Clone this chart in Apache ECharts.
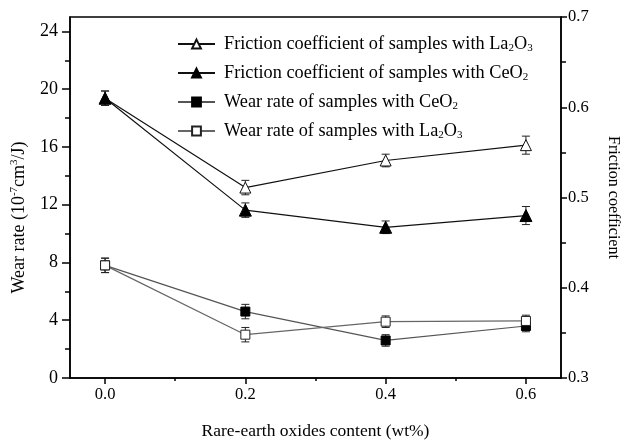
<!DOCTYPE html>
<html>
<head>
<meta charset="utf-8">
<script src="https://cdn.jsdelivr.net/npm/echarts@6/dist/echarts.min.js"></script>
<style>
html,body{margin:0;padding:0;background:#fff;}
#chart{width:629px;height:445px;}
</style>
</head>
<body>
<div id="chart"></div>
<script>
// ---- data ----
const xValues = [0, 0.2, 0.4, 0.6];
const frictionLa = [0.610, 0.511, 0.541, 0.558];
const frictionLaErr = [0.008, 0.008, 0.007, 0.010];
const frictionCe = [0.610, 0.486, 0.467, 0.480];
const frictionCeErr = [0.008, 0.008, 0.007, 0.010];
const wearCe = [7.8, 4.6, 2.6, 3.6];
const wearCeErr = [0.5, 0.5, 0.4, 0.4];
const wearLa = [7.8, 3.0, 3.9, 3.95];
const wearLaErr = [0.5, 0.5, 0.4, 0.4];

const xTicks = [0, 0.2, 0.4, 0.6];
const xMinorTicks = [0.1, 0.3, 0.5];
const leftTicks = [0, 4, 8, 12, 16, 20, 24];
const leftMinorTicks = [2, 6, 10, 14, 18, 22];

const seriesNames = [
  'Friction coefficient of samples with La2O3',
  'Friction coefficient of samples with CeO2',
  'Wear rate of samples with CeO2',
  'Wear rate of samples with La2O3'
];
const legendLabels = {
  'Friction coefficient of samples with La2O3': 'Friction coefficient of samples with La{sub|2}O{sub|3}',
  'Friction coefficient of samples with CeO2': 'Friction coefficient of samples with CeO{sub|2}',
  'Wear rate of samples with CeO2': 'Wear rate of samples with CeO{sub|2}',
  'Wear rate of samples with La2O3': 'Wear rate of samples with La{sub|2}O{sub|3}'
};

const FONT = "'Liberation Serif', 'Times New Roman', serif";

function errBars(vals, errs) {
  return xValues.map((x, i) => [x, vals[i], errs[i]]);
}
function renderErr(params, api) {
  const x = api.value(0), y = api.value(1), e = api.value(2);
  const t = api.coord([x, y + e]);
  const b = api.coord([x, y - e]);
  const w = 4;
  const st = { stroke: '#222', lineWidth: 1, fill: null };
  return {
    type: 'group',
    children: [
      { type: 'line', shape: { x1: t[0], y1: t[1], x2: b[0], y2: b[1] }, style: st },
      { type: 'line', shape: { x1: t[0] - w, y1: t[1], x2: t[0] + w, y2: t[1] }, style: st },
      { type: 'line', shape: { x1: b[0] - w, y1: b[1], x2: b[0] + w, y2: b[1] }, style: st }
    ]
  };
}

const chart = echarts.init(document.getElementById('chart'));
const axisLineStyle = { color: '#000', width: 1.5 };
const option = {
  animation: false,
  backgroundColor: '#fff',
  textStyle: { fontFamily: FONT },
  grid: { left: 70, right: 64, top: 17, bottom: 62, show: true, borderColor: '#000', borderWidth: 1.5, backgroundColor: 'transparent' },
  legend: {
    data: seriesNames,
    orient: 'vertical',
    left: 172,
    top: 29,
    itemGap: 9,
    itemWidth: 37,
    itemHeight: 11,
    formatter: name => legendLabels[name],
    textStyle: {
      fontFamily: FONT, fontSize: 18.3, color: '#000', lineHeight: 20, padding: [0, 0, 0, 4],
      rich: { sub: { fontFamily: FONT, fontSize: 11, verticalAlign: 'bottom', lineHeight: 12, color: '#000' } }
    }
  },
  xAxis: [
    {
      type: 'value', min: -0.05, max: 0.65,
      name: 'Rare-earth oxides content (wt%)', nameLocation: 'middle', nameGap: 44,
      nameTextStyle: { fontFamily: FONT, fontSize: 17.5, color: '#000' },
      axisLine: { onZero: false, lineStyle: axisLineStyle },
      axisTick: { customValues: xTicks, length: 6, lineStyle: axisLineStyle },
      axisLabel: { customValues: xTicks, formatter: v => Number(v).toFixed(1), margin: 8, fontFamily: FONT, fontSize: 16.5, color: '#000' },
      splitLine: { show: false }
    },
    {
      type: 'value', min: -0.05, max: 0.65, position: 'bottom',
      axisLine: { show: false, onZero: false },
      axisTick: { customValues: xMinorTicks, length: 3, lineStyle: axisLineStyle },
      axisLabel: { show: false },
      splitLine: { show: false }
    }
  ],
  yAxis: [
    {
      type: 'value', min: 0, max: 25, position: 'left',
      name: 'Wear rate (10{sup|-7}cm{sup|3}/J)', nameLocation: 'middle', nameGap: 36,
      nameTextStyle: {
        fontFamily: FONT, fontSize: 18, color: '#000', lineHeight: 20, padding: [0, 40, 0, 0],
        rich: { sup: { fontFamily: FONT, fontSize: 11, verticalAlign: 'top', lineHeight: 12, color: '#000' } }
      },
      axisLine: { show: true, onZero: false, lineStyle: axisLineStyle },
      axisTick: { customValues: leftTicks, length: 8, lineStyle: axisLineStyle },
      axisLabel: { customValues: leftTicks, margin: 12, fontFamily: FONT, fontSize: 18, color: '#000' },
      splitLine: { show: false }
    },
    {
      type: 'value', min: 0.3, max: 0.7, interval: 0.1, position: 'right',
      name: 'Friction coefficient', nameLocation: 'middle', nameGap: 44, nameRotate: -90,
      nameTextStyle: { fontFamily: FONT, fontSize: 16, color: '#000' },
      axisLine: { show: true, onZero: false, lineStyle: axisLineStyle },
      axisTick: { length: 6, lineStyle: axisLineStyle },
      minorTick: { show: true, splitNumber: 2, length: 5, lineStyle: { color: '#000', width: 1.5 } },
      axisLabel: { formatter: v => Number(v).toFixed(1), margin: 7, fontFamily: FONT, fontSize: 16.5, color: '#000' },
      splitLine: { show: false }
    },
    {
      type: 'value', min: 0, max: 25, position: 'left',
      axisLine: { show: false, onZero: false },
      axisTick: { customValues: leftMinorTicks, length: 5, lineStyle: axisLineStyle },
      axisLabel: { show: false },
      splitLine: { show: false }
    }
  ],
  series: [
    { type: 'custom', yAxisIndex: 1, z: 1, renderItem: renderErr, data: errBars(frictionLa, frictionLaErr) },
    { type: 'custom', yAxisIndex: 1, z: 1, renderItem: renderErr, data: errBars(frictionCe, frictionCeErr) },
    { type: 'custom', yAxisIndex: 0, z: 1, renderItem: renderErr, data: errBars(wearCe, wearCeErr) },
    { type: 'custom', yAxisIndex: 0, z: 1, renderItem: renderErr, data: errBars(wearLa, wearLaErr) },
    {
      name: seriesNames[0], type: 'line', yAxisIndex: 1, z: 3,
      data: xValues.map((x, i) => [x, frictionLa[i]]),
      symbol: 'triangle', symbolSize: 11,
      lineStyle: { color: '#111', width: 1.2 },
      itemStyle: { color: '#fff', borderColor: '#111', borderWidth: 1 }
    },
    {
      name: seriesNames[1], type: 'line', yAxisIndex: 1, z: 4,
      data: xValues.map((x, i) => [x, frictionCe[i]]),
      symbol: 'triangle', symbolSize: 12,
      lineStyle: { color: '#111', width: 1.2 },
      itemStyle: { color: '#000', borderColor: '#000', borderWidth: 1 }
    },
    {
      name: seriesNames[2], type: 'line', yAxisIndex: 0, z: 3,
      data: xValues.map((x, i) => [x, wearCe[i]]),
      symbol: 'rect', symbolSize: 9,
      lineStyle: { color: '#555', width: 1.2 },
      itemStyle: { color: '#000', borderColor: '#000', borderWidth: 1 }
    },
    {
      name: seriesNames[3], type: 'line', yAxisIndex: 0, z: 4,
      data: xValues.map((x, i) => [x, wearLa[i]]),
      symbol: 'rect', symbolSize: 9,
      lineStyle: { color: '#666', width: 1.2 },
      itemStyle: { color: '#fff', borderColor: '#222', borderWidth: 1 }
    }
  ]
};
chart.setOption(option);
</script>
</body>
</html>
